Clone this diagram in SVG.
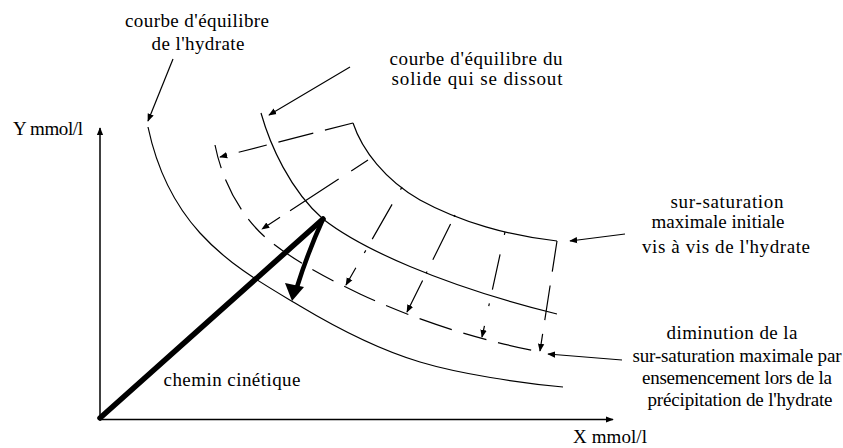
<svg xmlns="http://www.w3.org/2000/svg" width="843" height="448" viewBox="0 0 843 448">
<defs>
  <marker id="ah" viewBox="0 0 10 10" refX="9" refY="5" markerWidth="8" markerHeight="8" markerUnits="userSpaceOnUse" orient="auto">
    <path d="M0,1 L10,5 L0,9 z" fill="#000" stroke="none"/>
  </marker>
</defs>
<rect width="843" height="448" fill="#fff"/>

<g id="axes" fill="none" stroke="#000" stroke-width="1.5">
  <line x1="100" y1="419.5" x2="100" y2="128" marker-end="url(#ah)"/>
  <line x1="100" y1="419.5" x2="613" y2="419.5" marker-end="url(#ah)"/>
</g>

<g fill="none" stroke="#000" stroke-width="1.2" stroke-linejoin="round">
  <g id="curve-hydrate">
    <path d="M148,127 C155,160 170,200 200,233 S265,285 300,306 S380,350 420,362 S520,383 563,387"/>
  </g>
  <g id="curve-solide">
    <path d="M261,113 C270,145 290,190 323,219 C360,248 440,285 557,314"/>
  </g>
  <g id="curve-initiale">
    <path d="M353,123 C362,150 385,180 420,200 C460,222 510,236 557,241"/>
  </g>
  <g id="curve-diminuee">
    <path d="M215,145 C222,180 240,215 265,237 C290,258 320,275 360,294 C420,322 480,340 540,352" stroke-dasharray="24 12 34 12"/>
  </g>
</g>

<g id="connectors" fill="none" stroke="#000" stroke-width="1.2">
  <line x1="353" y1="123" x2="220" y2="157" marker-end="url(#ah)" stroke-dasharray="29 12 36 12"/>
  <line x1="368" y1="160" x2="262" y2="229" marker-end="url(#ah)" stroke-dasharray="20 15 58 12"/>
  <line x1="402" y1="187" x2="346" y2="285" marker-end="url(#ah)" stroke-dasharray="3 17 40 13"/>
  <line x1="455" y1="215" x2="407" y2="312" marker-end="url(#ah)" stroke-dasharray="2 8 40 13"/>
  <line x1="505" y1="232" x2="482" y2="337" marker-end="url(#ah)" stroke-dasharray="3 20 36 14"/>
  <line x1="557" y1="241" x2="540" y2="351" marker-end="url(#ah)" stroke-dasharray="31 14 35 14"/>

  <line x1="173" y1="59" x2="148" y2="121" marker-end="url(#ah)"/>
  <line x1="350" y1="67" x2="269" y2="115" marker-end="url(#ah)"/>
  <line x1="625" y1="234" x2="570" y2="241" marker-end="url(#ah)"/>
  <line x1="622" y1="360" x2="548" y2="354" marker-end="url(#ah)"/>

  <g id="chemin-cinetique" stroke-linecap="round">
    <line x1="100" y1="418" x2="323" y2="219" stroke-width="5.5"/>
    <path d="M323,219 Q308,252 297,287" stroke-width="4.5"/>
    <polygon points="292,301 285,283 304,287" fill="#000" stroke="none"/>
  </g>
</g>

<g id="labels" font-family="Liberation Serif" font-size="19" fill="#000">
  <g id="lbl-hydrate" text-anchor="middle">
    <text x="197" y="27" textLength="144" lengthAdjust="spacing">courbe d'équilibre</text>
    <text x="198" y="50" textLength="93" lengthAdjust="spacing">de l'hydrate</text>
  </g>
  <g id="lbl-solide" text-anchor="middle">
    <text x="476" y="65" textLength="173" lengthAdjust="spacing">courbe d'équilibre du</text>
    <text x="477" y="85" textLength="171" lengthAdjust="spacing">solide qui se dissout</text>
  </g>
  <g id="lbl-y">
    <text x="13" y="135" textLength="70" lengthAdjust="spacing">Y mmol/l</text>
  </g>
  <g id="lbl-x">
    <text x="573" y="443" textLength="74" lengthAdjust="spacing">X mmol/l</text>
  </g>
  <g id="lbl-initiale" text-anchor="middle">
    <text x="727" y="208" textLength="113" lengthAdjust="spacing">sur-saturation</text>
    <text x="718" y="228" textLength="133" lengthAdjust="spacing">maximale initiale</text>
    <text x="726" y="253" textLength="168" lengthAdjust="spacing">vis à vis de l'hydrate</text>
  </g>
  <g id="lbl-diminution" text-anchor="middle">
    <text x="732" y="339" textLength="131" lengthAdjust="spacing">diminution de la</text>
    <text x="737" y="362" textLength="209" lengthAdjust="spacing">sur-saturation maximale par</text>
    <text x="737" y="384" textLength="190" lengthAdjust="spacing">ensemencement lors de la</text>
    <text x="740" y="406" textLength="185" lengthAdjust="spacing">précipitation de l'hydrate</text>
  </g>
  <g id="lbl-chemin" text-anchor="middle">
    <text x="232" y="386" textLength="137" lengthAdjust="spacing">chemin cinétique</text>
  </g>
</g>
</svg>
